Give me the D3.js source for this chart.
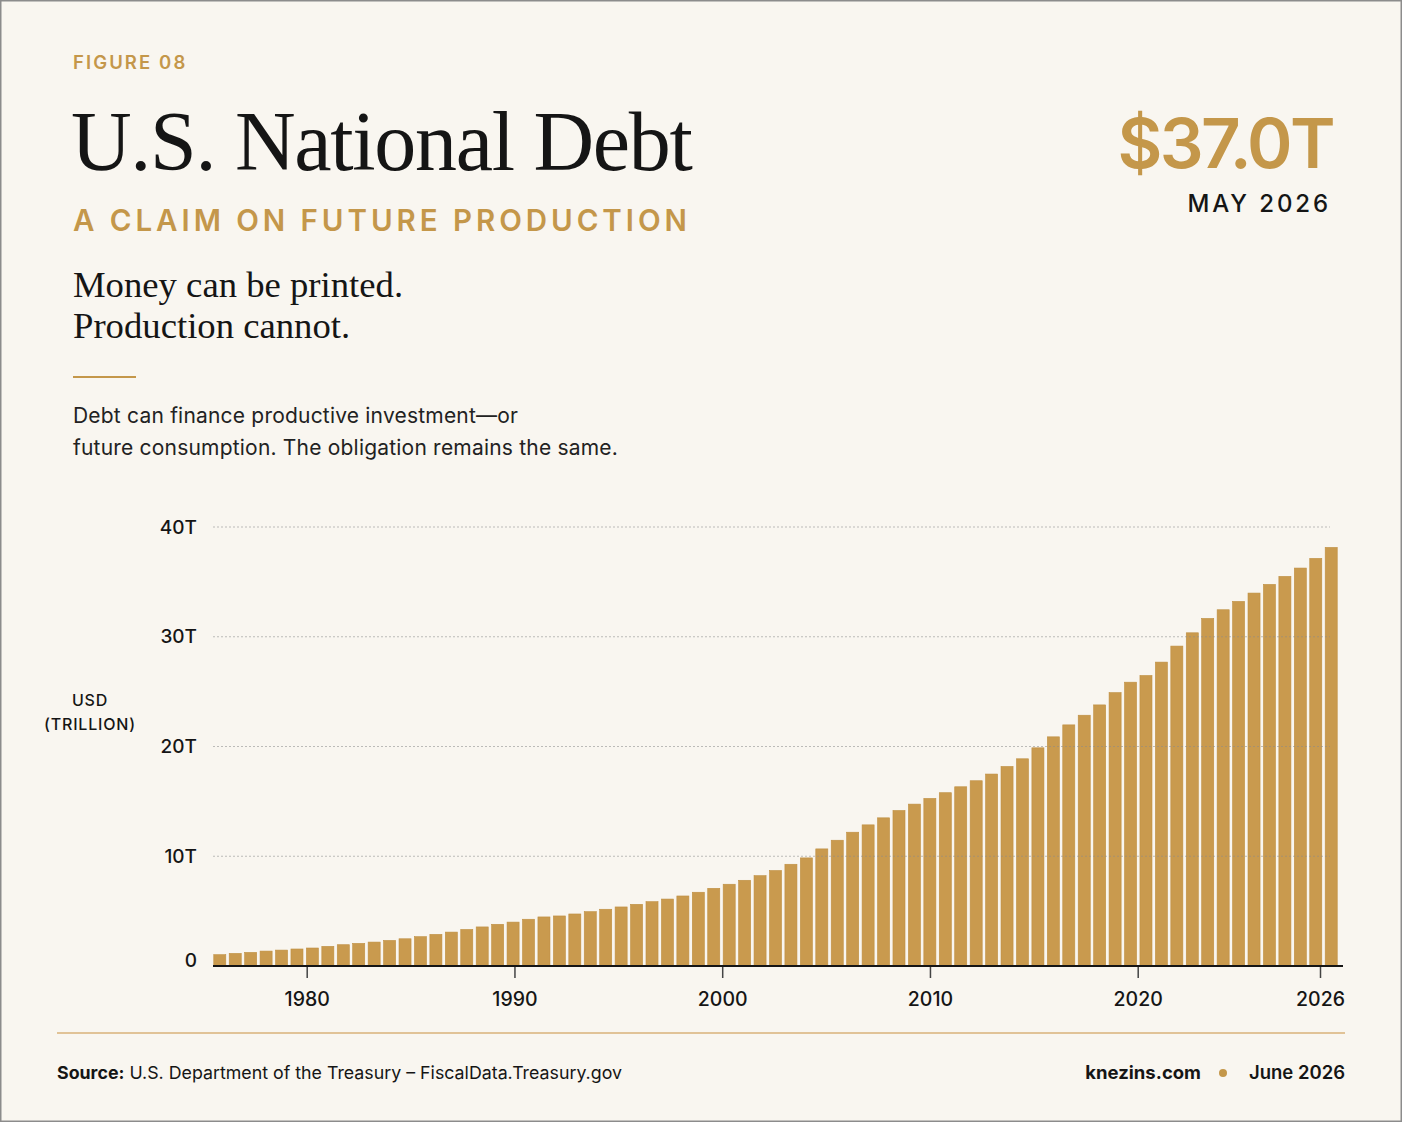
<!DOCTYPE html>
<html>
<head>
<meta charset="utf-8">
<script src="https://cdn.jsdelivr.net/npm/d3@7"></script>
<style>
  html, body { margin: 0; padding: 0; background: #f9f6f0; }
  svg { display: block; }
  .sans { font-family: Inter, "Noto Sans", sans-serif; }
  .serif { font-family: "Liberation Serif", "DejaVu Serif", serif; }
</style>
</head>
<body>
<div id="chart"></div>
<script>
// debt outstanding, trillions of USD, one bar per period
var debtTrillions = [
  1.03, 1.15, 1.24, 1.36, 1.45, 1.55, 1.64, 1.79, 1.94, 2.06,
  2.18, 2.33, 2.48, 2.67, 2.88, 3.09, 3.33, 3.56, 3.80, 4.00,
  4.26, 4.47, 4.56, 4.74, 4.95, 5.17, 5.38, 5.62, 5.86, 6.10,
  6.38, 6.72, 7.08, 7.45, 7.81, 8.23, 8.70, 9.27, 9.85, 10.67,
  11.46, 12.19, 12.86, 13.50, 14.17, 14.75, 15.27, 15.79, 16.33, 16.88,
  17.49, 18.18, 18.88, 19.88, 20.88, 21.97, 22.85, 23.79, 24.91, 25.86,
  26.47, 27.69, 29.15, 30.36, 31.67, 32.46, 33.22, 33.98, 34.77, 35.50,
  36.26, 37.14, 38.14
];
var yTicks = [0, 10, 20, 30, 40];
var xTickYears = [1980, 1990, 2000, 2010, 2020, 2026];

var W = 1402, H = 1122;
var gold = "#c4974a";
var barGold = "#c99a4e";
var ink = "#151515";

var svg = d3.select("#chart").append("svg")
    .attr("width", W)
    .attr("height", H);

svg.append("rect")
    .attr("x", 0.75).attr("y", 0.75)
    .attr("width", W - 1.5).attr("height", H - 1.5)
    .attr("fill", "#f9f6f0")
    .attr("stroke", "#8c8c8c")
    .attr("stroke-width", 1.5);

// ---- header ----
svg.append("text").attr("class", "sans")
    .attr("x", 73).attr("y", 69)
    .attr("fill", gold)
    .style("font-size", "18.5px").style("font-weight", 600).style("letter-spacing", "2.1px")
    .text("FIGURE 08");

svg.append("text").attr("class", "serif")
    .attr("x", 71).attr("y", 170)
    .attr("fill", ink)
    .style("font-size", "84px").style("letter-spacing", "-1.3px")
    .text("U.S. National Debt");

svg.append("text").attr("class", "sans")
    .attr("x", 73).attr("y", 231)
    .attr("fill", gold)
    .style("font-size", "29.5px").style("font-weight", 600).style("letter-spacing", "3.95px")
    .text("A CLAIM ON FUTURE PRODUCTION");

svg.append("text").attr("class", "serif")
    .attr("x", 73).attr("y", 297)
    .attr("fill", ink)
    .style("font-size", "36.7px")
    .text("Money can be printed.");

svg.append("text").attr("class", "serif")
    .attr("x", 73).attr("y", 338)
    .attr("fill", ink)
    .style("font-size", "36.7px")
    .text("Production cannot.");

svg.append("line")
    .attr("x1", 73).attr("x2", 136)
    .attr("y1", 377).attr("y2", 377)
    .attr("stroke", gold).attr("stroke-width", 2);

svg.append("text").attr("class", "sans")
    .attr("x", 73).attr("y", 423)
    .attr("fill", "#222")
    .style("font-size", "21px").style("letter-spacing", "0.2px")
    .text("Debt can finance productive investment\u2014or");

svg.append("text").attr("class", "sans")
    .attr("x", 73).attr("y", 455)
    .attr("fill", "#222")
    .style("font-size", "21px").style("letter-spacing", "0.2px")
    .text("future consumption. The obligation remains the same.");

// headline number
svg.append("text").attr("class", "sans")
    .attr("x", 1333).attr("y", 168)
    .attr("text-anchor", "end")
    .attr("fill", gold)
    .style("font-size", "69px").style("font-weight", 600).style("letter-spacing", "-2.6px")
    .text("$37.0T");

svg.append("text").attr("class", "sans")
    .attr("x", 1331).attr("y", 212)
    .attr("text-anchor", "end")
    .attr("fill", ink)
    .style("font-size", "24px").style("font-weight", 500).style("letter-spacing", "2.9px")
    .text("MAY 2026");

// ---- chart ----
var plotLeft = 213, plotRight = 1343;

var x = d3.scaleBand()
    .domain(d3.range(debtTrillions.length))
    .range([plotLeft, 1338])
    .paddingInner(0.22)
    .paddingOuter(0.05);

var y = d3.scaleLinear()
    .domain([0, 40])
    .range([966, 527]);

// the printed year axis is not evenly spaced under the bars; follow it piecewise
var xYear = d3.scaleLinear()
    .domain([1980, 2020, 2026])
    .range([306.7, 1137.7, 1320]);

svg.append("g")
    .selectAll("rect")
    .data(debtTrillions)
    .join("rect")
    .attr("x", function(d, i) { return x(i); })
    .attr("y", function(d) { return y(d); })
    .attr("width", x.bandwidth())
    .attr("height", function(d) { return y(0) - y(d); })
    .attr("fill", barGold)
    .attr("stroke", "#bf8f42")
    .attr("stroke-width", 0.6);

// dotted gridlines
svg.append("g")
    .selectAll("line")
    .data(yTicks.filter(function(d) { return d > 0; }))
    .join("line")
    .attr("x1", plotLeft).attr("x2", 1330)
    .attr("y1", function(d) { return y(d); })
    .attr("y2", function(d) { return y(d); })
    .attr("stroke", "#8a8a8a")
    .attr("stroke-opacity", 0.55)
    .attr("stroke-width", 1)
    .attr("stroke-dasharray", "2,2");

// y labels
svg.append("g")
    .selectAll("text")
    .data(yTicks)
    .join("text")
    .attr("class", "sans")
    .attr("x", 197)
    .attr("y", function(d) { return d === 0 ? y(d) - 6 : y(d); })
    .attr("dy", "0.35em")
    .attr("text-anchor", "end")
    .attr("fill", ink)
    .style("font-size", "19px").style("font-weight", 500)
    .text(function(d) { return d === 0 ? "0" : d + "T"; });

svg.append("text").attr("class", "sans")
    .attr("x", 90).attr("y", 706)
    .attr("text-anchor", "middle")
    .attr("fill", ink)
    .style("font-size", "16px").style("font-weight", 500).style("letter-spacing", "0.8px")
    .text("USD");
svg.append("text").attr("class", "sans")
    .attr("x", 90).attr("y", 730)
    .attr("text-anchor", "middle")
    .attr("fill", ink)
    .style("font-size", "16px").style("font-weight", 500).style("letter-spacing", "0.8px")
    .text("(TRILLION)");

// x axis
var xAxis = d3.axisBottom(xYear)
    .tickValues(xTickYears)
    .tickFormat(d3.format("d"))
    .tickSize(12)
    .tickPadding(14);

var gx = svg.append("g")
    .attr("transform", "translate(0," + y(0) + ")")
    .call(xAxis);
gx.select(".domain").remove();
gx.selectAll(".tick line").attr("stroke", "#444").attr("stroke-width", 1.5);
gx.selectAll(".tick text")
    .attr("class", "sans")
    .attr("fill", ink)
    .style("font-size", "19.5px").style("font-weight", 500);

svg.append("line")
    .attr("x1", plotLeft).attr("x2", plotRight)
    .attr("y1", y(0)).attr("y2", y(0))
    .attr("stroke", ink).attr("stroke-width", 2);

// ---- footer ----
svg.append("line")
    .attr("x1", 57).attr("x2", 1345)
    .attr("y1", 1033).attr("y2", 1033)
    .attr("stroke", "#d9b27a").attr("stroke-width", 1.5);

var src = svg.append("text").attr("class", "sans")
    .attr("x", 57).attr("y", 1079)
    .attr("fill", ink)
    .style("font-size", "17.8px");
src.append("tspan").style("font-weight", 700).text("Source:");
src.append("tspan").text(" U.S. Department of the Treasury \u2013 FiscalData.Treasury.gov");

svg.append("text").attr("class", "sans")
    .attr("x", 1345).attr("y", 1079)
    .attr("text-anchor", "end")
    .attr("fill", ink)
    .style("font-size", "18.5px").style("font-weight", 600)
    .text("June 2026");

svg.append("circle")
    .attr("cx", 1223).attr("cy", 1073).attr("r", 4)
    .attr("fill", gold);

svg.append("text").attr("class", "sans")
    .attr("x", 1201).attr("y", 1079)
    .attr("text-anchor", "end")
    .attr("fill", ink)
    .style("font-size", "18.5px").style("font-weight", 700)
    .text("knezins.com");
</script>
</body>
</html>
